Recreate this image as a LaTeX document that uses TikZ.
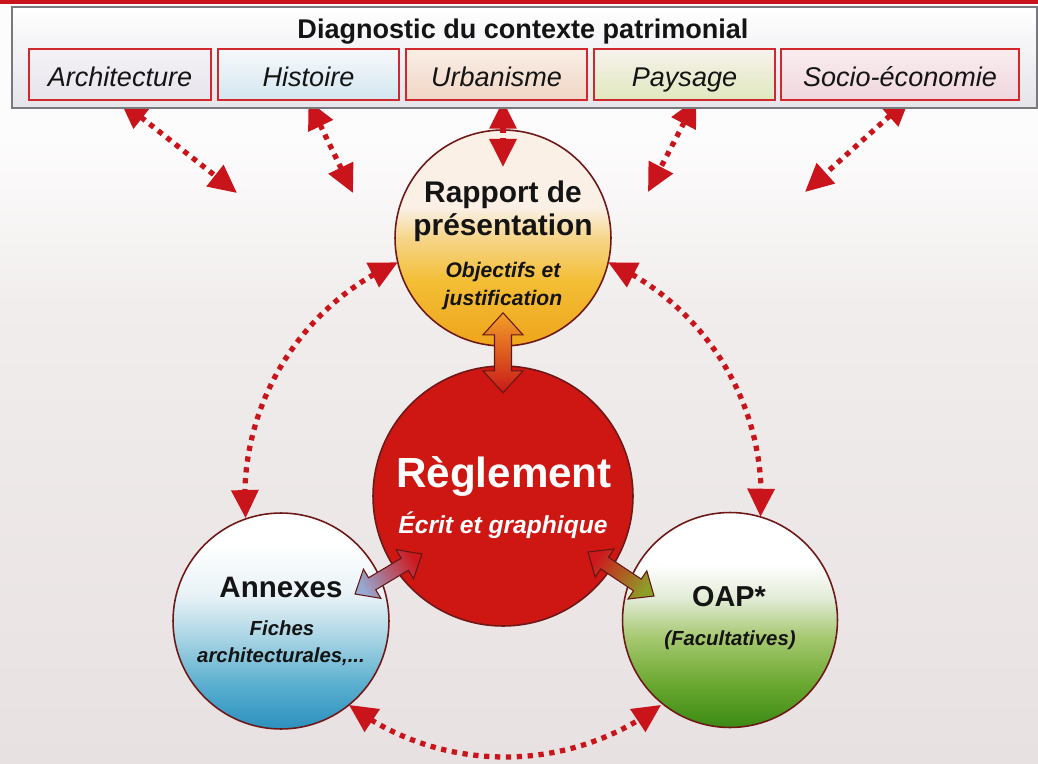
\documentclass[tikz,border=0pt]{standalone}
\usepackage{fontspec}
\setmainfont{Liberation Sans}
\usetikzlibrary{arrows.meta,calc,bending}
\definecolor{redA}{HTML}{C8141A}
\definecolor{boxred}{HTML}{D0282C}
\definecolor{circline}{HTML}{6E1818}
\definecolor{txt}{HTML}{141414}
\definecolor{regred}{HTML}{CE1613}
\definecolor{raptop}{HTML}{FAF0E6}
\definecolor{rapmid}{HTML}{F6D58A}
\definecolor{rapy}{HTML}{F3BE35}
\definecolor{rapbot}{HTML}{EEA51C}
\definecolor{annbot}{HTML}{2C90BE}
\definecolor{annb2}{HTML}{58AECF}
\definecolor{annb3}{HTML}{A8D4E4}
\definecolor{annb4}{HTML}{E8F2F6}
\definecolor{oapbot}{HTML}{3A8A14}
\definecolor{oapg2}{HTML}{6AA830}
\definecolor{oapg3}{HTML}{A6C870}
\definecolor{oapg4}{HTML}{E2EBD6}
\definecolor{bgtop}{HTML}{FDFCFC}
\definecolor{bgmid}{HTML}{F1EDED}
\definecolor{bgbot}{HTML}{E8E1E1}
\pgfdeclareverticalshading{bgshade}{100bp}{color(0bp)=(bgbot); color(25bp)=(bgbot); color(55bp)=(bgmid); color(66bp)=(bgtop); color(75bp)=(bgtop); color(100bp)=(bgtop)}
\pgfdeclareverticalshading{rapshade}{100bp}{color(0bp)=(rapbot); color(25bp)=(rapbot); color(40bp)=(rapy); color(50bp)=(rapmid); color(57bp)=(raptop); color(75bp)=(raptop); color(100bp)=(raptop)}
\pgfdeclareverticalshading{annshade}{100bp}{color(0bp)=(annbot); color(25bp)=(annbot); color(35bp)=(annb2); color(46bp)=(annb3); color(56bp)=(annb4); color(68bp)=(white); color(100bp)=(white)}
\pgfdeclareverticalshading{oapshade}{100bp}{color(0bp)=(oapbot); color(25bp)=(oapbot); color(35bp)=(oapg2); color(46bp)=(oapg3); color(55bp)=(oapg4); color(63bp)=(white); color(100bp)=(white)}
\pgfdeclarelayer{bg}
\pgfdeclarelayer{back}
\pgfsetlayers{bg,back,main}
\newcommand\blockarrow[6]{%
  \path[#1] let \p1=($(#3)-(#2)$), \n1={atan2(\y1,\x1)} in
  (#2) -- ($(#2)+(\n1:#6)+({\n1+90}:#5)$) -- ($(#2)+(\n1:#6)+({\n1+90}:#4)$)
  -- ($(#3)+({\n1+180}:#6)+({\n1+90}:#4)$) -- ($(#3)+({\n1+180}:#6)+({\n1+90}:#5)$)
  -- (#3) -- ($(#3)+({\n1+180}:#6)+({\n1-90}:#5)$) -- ($(#3)+({\n1+180}:#6)+({\n1-90}:#4)$)
  -- ($(#2)+(\n1:#6)+({\n1-90}:#4)$) -- ($(#2)+(\n1:#6)+({\n1-90}:#5)$) -- cycle;}
\begin{document}
\begin{tikzpicture}[x=0.02cm,y=0.02cm,
  subbox/.style={draw=boxred,line width=0.7pt,minimum width=#1,minimum height=1.02cm,inner sep=0pt,
     text height=14.2pt,text depth=0pt,font=\itshape\fontsize{15.4}{18}\selectfont,text=txt},
  bubble/.style={circle,draw=circline,line width=0.9pt,inner sep=0pt,outer sep=0pt,minimum size=#1},
  dotarrow/.style={draw=redA,line width=3pt,dash pattern=on 3pt off 3.2pt,
     {Triangle[length=16pt,width=15pt]}-{Triangle[length=16pt,width=15pt]}},
  btxt/.style={anchor=base,text=txt,font=\bfseries\fontsize{#1}{#1}\selectfont},
  bitxt/.style={anchor=base,text=txt,font=\bfseries\itshape\fontsize{#1}{#1}\selectfont},
  blockline/.style={draw=circline!90!black,line width=0.6pt}
]
\useasboundingbox (0,0) rectangle (1038,-764);
\begin{pgfonlayer}{bg}
  \fill[shading=bgshade] (0,0) rectangle (1038,-764);
\end{pgfonlayer}
% top red band
\fill[redA] (0,0) rectangle (1038,-4);
% header
\node[draw={rgb,255:red,120;green,120;blue,125},line width=0.9pt,top color=white,bottom color={rgb,255:red,228;green,228;blue,234},
  minimum width=20.5cm,minimum height=2.02cm,inner sep=0pt] (head) at (524.5,-57.5) {};
\node[btxt=15.4] (title) at (523,-38) {Diagnostic du contexte patrimonial};
\node[subbox=3.64cm,top color={rgb,255:red,244;green,241;blue,246},bottom color={rgb,255:red,232;green,228;blue,236}] (arch) at (120,-74.5) {Architecture};
\node[subbox=3.62cm,top color={rgb,255:red,247;green,249;blue,251},bottom color={rgb,255:red,212;green,230;blue,240}] (hist) at (308.5,-74.5) {Histoire};
\node[subbox=3.62cm,top color={rgb,255:red,250;green,238;blue,230},bottom color={rgb,255:red,240;green,214;blue,198}] (urb) at (496.5,-74.5) {Urbanisme};
\node[subbox=3.62cm,top color={rgb,255:red,247;green,242;blue,236},bottom color={rgb,255:red,224;green,232;blue,190}] (pay) at (684.5,-74.5) {Paysage};
\node[subbox=4.76cm,top color={rgb,255:red,249;green,237;blue,239},bottom color={rgb,255:red,240;green,214;blue,222}] (soc) at (900,-74.5) {Socio-économie};
% circles and header arrows (behind the header)
\begin{pgfonlayer}{back}
  \node[bubble=4.32cm,shading=rapshade] (rap) at (503,-238) {};
  \node[bubble=5.2cm,fill=regred] (reg) at (503,-496) {};
  \node[bubble=4.32cm,shading=annshade] (ann) at (281,-621) {};
  \node[bubble=4.3cm,shading=oapshade] (oap) at (730,-620) {};
  \coordinate (e1) at (237,-193);
  \coordinate (e2) at (353,-193);
  \coordinate (e3) at (503,-167);
  \coordinate (e4) at (648,-192);
  \coordinate (e5) at (805,-192);
  \draw[dotarrow] (arch.south) -- (e1);
  \draw[dotarrow] (hist.south) -- (e2);
  \draw[dotarrow] (rap.north |- urb.south) -- (e3);
  \draw[dotarrow] ($(pay.south)+(12,2)$) -- (e4);
  \draw[dotarrow] ($(soc.south)+(10,3)$) -- (e5);
\end{pgfonlayer}
% curved dotted connectors
\draw[dotarrow] (rap.193) arc[start angle=114,end angle=184.5,radius=5.16cm];
\draw[dotarrow] (rap.-13) arc[start angle=66,end angle=-4.2,radius=5.16cm];
\draw[dotarrow] (ann.-51) arc[start angle=233.1,end angle=306.9,radius=5.2cm];
% block arrows
\coordinate (v1) at ($(rap)!0.29!(reg)$);
\coordinate (v2) at ($(rap)!0.6!(reg)$);
\coordinate (ba1) at (355,-594);
\coordinate (ba2) at (422,-554);
\coordinate (bo1) at (588,-552);
\coordinate (bo2) at (654,-596);
\blockarrow{blockline,top color={rgb,255:red,242;green,160;blue,40},bottom color={rgb,255:red,200;green,24;blue,24},shading angle=0}{v1}{v2}{0.17cm}{0.4cm}{0.44cm}
\blockarrow{blockline,top color={rgb,255:red,205;green,24;blue,30},bottom color={rgb,255:red,150;green,170;blue,210},shading angle=-60}{ba1}{ba2}{0.14cm}{0.34cm}{0.4cm}
\blockarrow{blockline,top color={rgb,255:red,205;green,24;blue,30},bottom color={rgb,255:red,140;green,160;blue,40},shading angle=56}{bo1}{bo2}{0.14cm}{0.34cm}{0.4cm}
% texts
\node[btxt=17] (rap1) at (503,-202) {Rapport de};
\node[btxt=17] (rap2) at (503,-235) {présentation};
\node[bitxt=12] (rap3) at (503,-277) {Objectifs et};
\node[bitxt=12] (rap4) at (503,-305) {justification};
\node[btxt=24,text=white] (reg1) at (504,-487) {Règlement};
\node[bitxt=14,text=white] (reg2) at (503,-533) {Écrit et graphique};
\node[btxt=16.8] (ann1) at (281,-597) {Annexes};
\node[bitxt=11.6] (ann2) at (282,-635) {Fiches};
\node[bitxt=11.6] (ann3) at (281,-662) {architecturales,...};
\node[btxt=16.4] (oap1) at (729,-606) {OAP*};
\node[bitxt=11.6] (oap2) at (730,-645) {(Facultatives)};
\end{tikzpicture}
\end{document}
